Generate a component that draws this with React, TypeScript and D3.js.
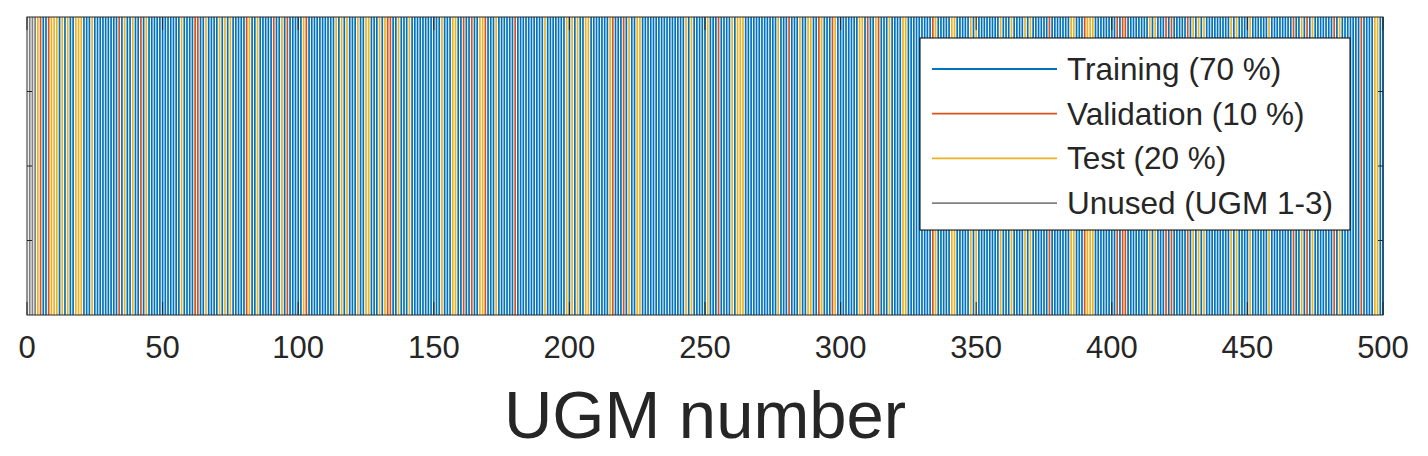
import React from "react";
import * as d3 from "d3";

// UGM ids by split; everything else in 1..500 is training
const ugmCount = 500;
const unusedIds = [1, 2, 3];
const validationIds = [
  5, 8, 34, 42, 62, 63, 81, 91, 96, 103, 133, 134, 161, 164, 169, 180, 216, 220,
  255, 281, 292, 297, 310, 314, 334, 377, 390, 402, 404, 405, 420, 422, 428, 467,
  472, 482, 492,
];
const testIds = [
  4, 9, 10, 11, 13, 15, 18, 19, 20, 24, 36, 39, 44, 57, 66, 71, 73, 75, 82, 85, 94,
  102, 114, 116, 118, 122, 125, 126, 130, 132, 137, 141, 153, 157, 158, 167, 168,
  173, 191, 199, 201, 203, 206, 207, 215, 222, 225, 226, 243, 245, 251, 260, 262,
  263, 264, 277, 285, 288, 289, 293, 298, 307, 308, 313, 318, 323, 324, 335, 341,
  342, 348, 350, 359, 363, 368, 370, 385, 386, 391, 392, 393, 414, 416, 430, 432,
  434, 444, 446, 451, 458, 470, 474, 484, 497, 498,
];
const xTicks = [0, 50, 100, 150, 200, 250, 300, 350, 400, 450, 500];
const yTicks = [0.25, 0.5, 0.75];

const legendItems = [
  { key: "train", label: "Training (70 %)" },
  { key: "val", label: "Validation (10 %)" },
  { key: "test", label: "Test (20 %)" },
  { key: "unused", label: "Unused (UGM 1-3)" },
];

const COLORS: Record<string, string> = {
  train: "#0072BD",
  val: "#D95319",
  test: "#EDB120",
  unused: "#808080",
};

const W = 1428;
const H = 456;
const PLOT = { left: 27, right: 1383, top: 17, bottom: 315 };
const FONT = "'Liberation Sans', Arial, Helvetica, sans-serif";
const AXIS = "#262626";

export default function App() {
  const x = d3.scaleLinear().domain([0, 500]).range([PLOT.left, PLOT.right]);
  const y = d3.scaleLinear().domain([0, 1]).range([PLOT.bottom, PLOT.top]);

  const valSet = new Set(validationIds);
  const testSet = new Set(testIds);
  const unusedSet = new Set(unusedIds);
  const ugms = d3.range(1, ugmCount + 1).map((id) => ({
    id,
    split: unusedSet.has(id)
      ? "unused"
      : valSet.has(id)
      ? "val"
      : testSet.has(id)
      ? "test"
      : "train",
  }));

  const tickLen = 13;

  return (
    <svg
      width={W}
      height={H}
      style={{ position: "absolute", left: 0, top: 0, background: "#fff" }}
    >
      <rect x={0} y={0} width={W} height={H} fill="#fff" />

      {/* one vertical line per UGM */}
      <g>
        {ugms.map((d) => (
          <line
            key={d.id}
            x1={x(d.id)}
            x2={x(d.id)}
            y1={y(0)}
            y2={y(1)}
            stroke={COLORS[d.split]}
            strokeWidth={1.7}
          />
        ))}
      </g>

      {/* axes box and ticks */}
      <g stroke={AXIS} strokeWidth={1} fill="none">
        <rect
          x={PLOT.left}
          y={PLOT.top}
          width={PLOT.right - PLOT.left}
          height={PLOT.bottom - PLOT.top}
        />
        {xTicks.map((t) => (
          <g key={t}>
            <line x1={x(t)} x2={x(t)} y1={PLOT.bottom} y2={PLOT.bottom - tickLen} />
            <line x1={x(t)} x2={x(t)} y1={PLOT.top} y2={PLOT.top + tickLen} />
          </g>
        ))}
        {yTicks.map((t) => (
          <g key={t}>
            <line x1={PLOT.left} x2={PLOT.left + 5} y1={y(t)} y2={y(t)} />
            <line x1={PLOT.right} x2={PLOT.right - 5} y1={y(t)} y2={y(t)} />
          </g>
        ))}
      </g>

      <g fontFamily={FONT} fill={AXIS}>
        {xTicks.map((t) => (
          <text key={t} x={x(t)} y={358} fontSize={31} textAnchor="middle">
            {t}
          </text>
        ))}
        <text x={(PLOT.left + PLOT.right) / 2} y={438} fontSize={67} textAnchor="middle">
          UGM number
        </text>
      </g>

      {/* legend */}
      <g>
        <rect x={920} y={38} width={430} height={192} fill="#fff" stroke="#000" strokeWidth={1} />
        {legendItems.map((d, i) => {
          const cy = 69 + i * 44.7;
          return (
            <g key={d.key}>
              <line x1={932} x2={1057} y1={cy} y2={cy} stroke={COLORS[d.key]} strokeWidth={1.8} />
              <text
                x={1067}
                y={cy}
                dy="0.35em"
                fontSize={31.5}
                fontFamily={FONT}
                fill={AXIS}
              >
                {d.label}
              </text>
            </g>
          );
        })}
      </g>
    </svg>
  );
}
